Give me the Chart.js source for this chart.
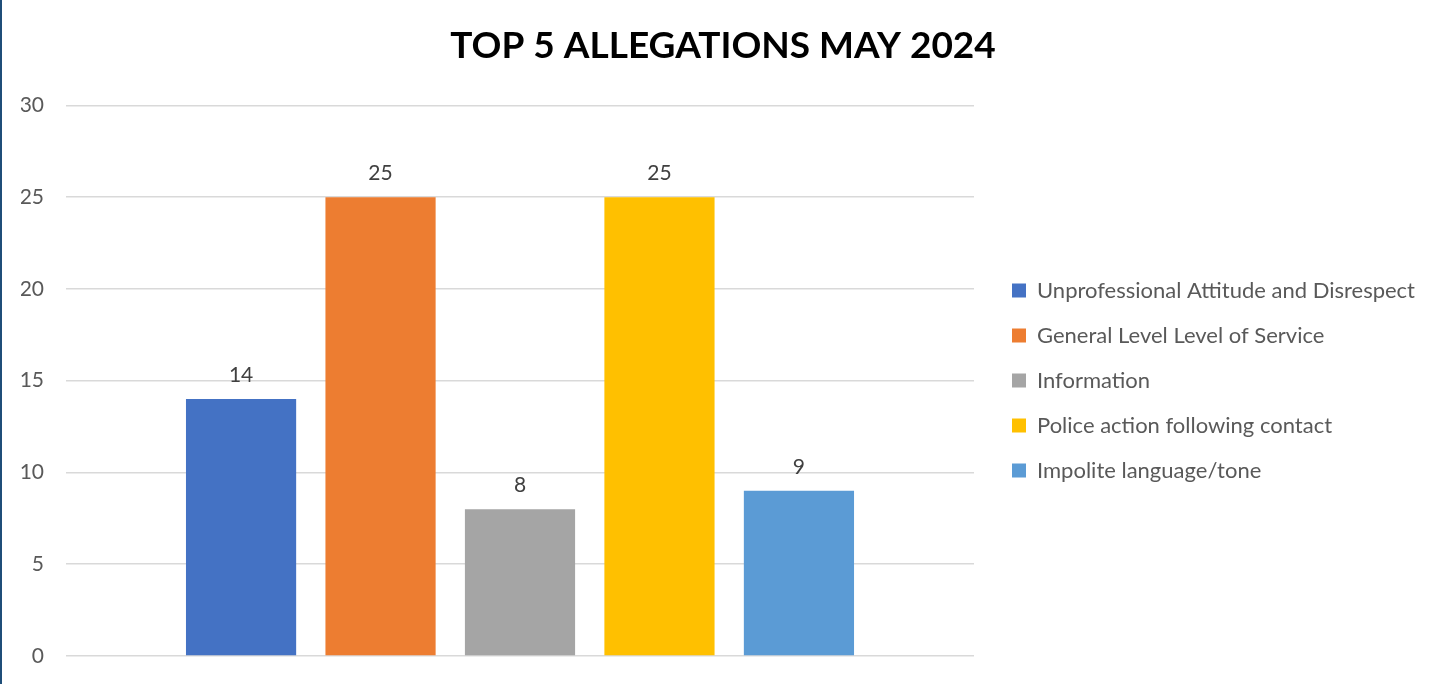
<!DOCTYPE html>
<html>
<head>
<meta charset="utf-8">
<script src="https://cdn.jsdelivr.net/npm/chart.js@4/dist/chart.umd.min.js"></script>
<style>
  html, body { margin: 0; padding: 0; background: #fff; }
  #wrap { position: relative; width: 1443px; height: 684px; }
  #edge { position: absolute; left: 0; top: 0; width: 2px; height: 684px; background: #1f4e79; }
</style>
</head>
<body>
<div id="wrap">
  <canvas id="chart"></canvas>
  <div id="edge"></div>
</div>
<script>
const titleText = 'TOP 5 ALLEGATIONS MAY 2024';
const seriesNames = [
    'Unprofessional Attitude and Disrespect',
    'General Level Level of Service',
    'Information',
    'Police action following contact',
    'Impolite language/tone'
];
const seriesValues = [14, 25, 8, 25, 9];
const seriesColors = ['#4472c4', '#ed7d31', '#a5a5a5', '#ffc000', '#5b9bd5'];
const yTicks = [0, 5, 10, 15, 20, 25, 30];

const valueLabels = {
    id: 'valueLabels',
    afterDatasetsDraw(chart) {
        const ctx = chart.ctx;
        ctx.save();
        ctx.font = '21px Lato';
        ctx.fillStyle = '#404040';
        ctx.textAlign = 'center';
        ctx.textBaseline = 'alphabetic';
        chart.data.datasets.forEach((ds, i) => {
            chart.getDatasetMeta(i).data.forEach((bar, j) => {
                ctx.fillText(ds.data[j], bar.x, bar.y - 17);
            });
        });
        ctx.restore();
    }
};

function draw() {
    new Chart(document.getElementById('chart'), {
        type: 'bar',
        data: {
            labels: [''],
            datasets: seriesNames.map((name, i) => ({
                label: name,
                data: [seriesValues[i]],
                backgroundColor: seriesColors[i],
                borderWidth: 0,
                categoryPercentage: 0.768,
                barPercentage: 0.79
            }))
        },
        options: {
            responsive: true,
            maintainAspectRatio: false,
            animation: false,
            layout: { padding: { left: 21, right: 18, top: 0, bottom: 28 } },
            scales: {
                x: { display: false },
                y: {
                    min: yTicks[0],
                    max: yTicks[yTicks.length - 1],
                    afterBuildTicks: axis => { axis.ticks = yTicks.map(v => ({ value: v })); },
                    afterFit: axis => { axis.width = 45; },
                    grid: { color: '#d9d9d9', lineWidth: 1.5, drawTicks: true, tickLength: 22, tickColor: 'rgba(0,0,0,0)' },
                    border: { display: false },
                    ticks: { color: '#595959', font: { family: 'Lato', size: 21 }, padding: 0 }
                },
                // empty spacer between plot and legend
                gap: {
                    position: 'right',
                    grid: { display: false },
                    border: { display: false },
                    ticks: { display: false },
                    afterFit: axis => { axis.width = 15; }
                }
            },
            plugins: {
                title: {
                    display: true,
                    text: titleText,
                    color: '#000',
                    font: { family: 'Lato', size: 37, weight: 'bold' },
                    padding: { top: 24, bottom: 37 }
                },
                legend: {
                    position: 'right',
                    align: 'center',
                    maxWidth: 600,
                    title: { display: true, text: '', font: { size: 10 }, padding: { top: 93, bottom: 0 } },
                    labels: {
                        color: '#595959',
                        font: { family: 'Lato', size: 22 },
                        boxWidth: 14,
                        boxHeight: 14,
                        padding: 23
                    }
                },
                tooltip: { enabled: false }
            }
        },
        plugins: [valueLabels]
    });
}

Promise.all([
    document.fonts.load('21px Lato'),
    document.fonts.load('bold 37px Lato')
]).then(draw, draw);
</script>
</body>
</html>
